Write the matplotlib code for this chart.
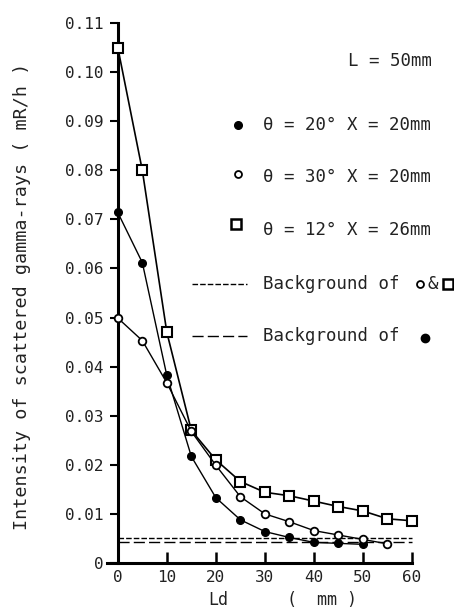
import matplotlib
matplotlib.use("Agg")
import matplotlib.pyplot as plt
from matplotlib.lines import Line2D

# ---- data ----
x_sq = [0, 5, 10, 15, 20, 25, 30, 35, 40, 45, 50, 55, 60]
y_sq = [0.105, 0.080, 0.047, 0.027, 0.021, 0.0166, 0.0144, 0.0137, 0.0126, 0.0115, 0.0106, 0.0090, 0.0086]

x_fc = [0, 5, 10, 15, 20, 25, 30, 35, 40, 45, 50]
y_fc = [0.0714, 0.0612, 0.0382, 0.0217, 0.0133, 0.0088, 0.0064, 0.0052, 0.0042, 0.0040, 0.0038]

x_oc = [0, 5, 10, 15, 20, 25, 30, 35, 40, 45, 50, 55]
y_oc = [0.0499, 0.0453, 0.0367, 0.0268, 0.0199, 0.0135, 0.0100, 0.0084, 0.0066, 0.0057, 0.0048, 0.0039]

bg_x = [0, 60]
bg_open_sq = [0.0050, 0.0050]
bg_filled = [0.0043, 0.0043]

xticks = [0, 10, 20, 30, 40, 50, 60]
yticks = [0, 0.01, 0.02, 0.03, 0.04, 0.05, 0.06, 0.07, 0.08, 0.09, 0.10, 0.11]
yticklabels = ["0", "0.01", "0.02", "0.03", "0.04", "0.05", "0.06", "0.07", "0.08", "0.09", "0.10", "0.11"]

W, H = 454, 609
FONT = ["DejaVu Sans Mono", "DejaVu Sans"]
plt.rcParams['font.family'] = FONT

fig = plt.figure(figsize=(W / 100, H / 100), dpi=100)
x0, x1, yb, yt = 107, 412, 563, 23
ax = fig.add_axes([x0 / W, 1 - yb / H, (x1 - x0) / W, (yb - yt) / H])

ax.set_xlim(-2.2, 60)
ax.set_ylim(0, 0.11)

ax.plot(bg_x, bg_open_sq, color='black', lw=1.0, ls=(0, (4, 1.5)), clip_on=False)
ax.plot(bg_x, bg_filled, color='black', lw=1.0, ls=(0, (8, 3)), clip_on=False)

ax.plot(x_sq, y_sq, color='black', lw=1.2, marker='s', ms=7, mfc='white', mec='black', mew=1.5, clip_on=False, zorder=5)
ax.plot(x_fc, y_fc, color='black', lw=1.0, marker='o', ms=5.5, mfc='black', mec='black', clip_on=False, zorder=6)
ax.plot(x_oc, y_oc, color='black', lw=1.0, marker='o', ms=5.5, mfc='white', mec='black', mew=1.3, clip_on=False, zorder=7)

for s in ['top', 'right']:
    ax.spines[s].set_visible(False)
ax.spines['left'].set_position(('data', 0))
ax.spines['left'].set_linewidth(2.2)
ax.spines['bottom'].set_linewidth(2.2)

ax.set_xticks(xticks)
ax.set_yticks(yticks)
ax.set_yticklabels(yticklabels)
ax.tick_params(axis='x', direction='in', length=8, width=1.8, labelsize=11.5, pad=5)
ax.tick_params(axis='y', direction='out', length=6, width=1.5, labelsize=11.5, pad=4)
for lab in ax.get_xticklabels() + ax.get_yticklabels():
    lab.set_color('#222222')

def ft(px, py, s, **kw):
    fig.text(px / W, 1 - py / H, s, **kw)

ft(22, 296, "Intensity of scattered gamma-rays ( mR/h )", rotation=90, ha='center', va='center', fontsize=13.2, color='#222222')
ft(218, 600, "Ld", ha='center', va='center', fontsize=12, color='#222222')
ft(322, 600, "(  mm )", ha='center', va='center', fontsize=12, color='#222222')

fs = 12.5
ft(348, 61, "L = 50mm", ha='left', va='center', fontsize=fs, color='#222222')
ft(263, 125, "θ = 20° X = 20mm", ha='left', va='center', fontsize=fs, color='#222222')
ft(263, 177, "θ = 30° X = 20mm", ha='left', va='center', fontsize=fs, color='#222222')
ft(263, 230, "θ = 12° X = 26mm", ha='left', va='center', fontsize=fs, color='#222222')
ft(263, 284, "Background of", ha='left', va='center', fontsize=fs, color='#222222')
ft(263, 336, "Background of", ha='left', va='center', fontsize=fs, color='#222222')

def key(px, py, **kw):
    fig.add_artist(Line2D([px / W], [1 - py / H], transform=fig.transFigure, ls='none', **kw))

key(238, 125, marker='o', ms=5.5, mfc='black', mec='black')
key(238, 174, marker='o', ms=5, mfc='white', mec='black', mew=1.3)
key(236, 224, marker='s', ms=7, mfc='white', mec='black', mew=1.8)
key(420, 284, marker='o', ms=5, mfc='white', mec='black', mew=1.3)
ft(433, 284, "&", ha='center', va='center', fontsize=fs, color='#222222')
key(448, 284, marker='s', ms=7, mfc='white', mec='black', mew=1.8)
key(425, 338, marker='o', ms=6, mfc='black', mec='black')

fig.add_artist(Line2D([192 / W, 247 / W], [1 - 284 / H] * 2, transform=fig.transFigure, color='black', lw=1.0, ls=(0, (4, 1.5))))
fig.add_artist(Line2D([192 / W, 247 / W], [1 - 336 / H] * 2, transform=fig.transFigure, color='black', lw=1.0, ls=(0, (8, 3))))

fig.savefig("out.png", dpi=100)
